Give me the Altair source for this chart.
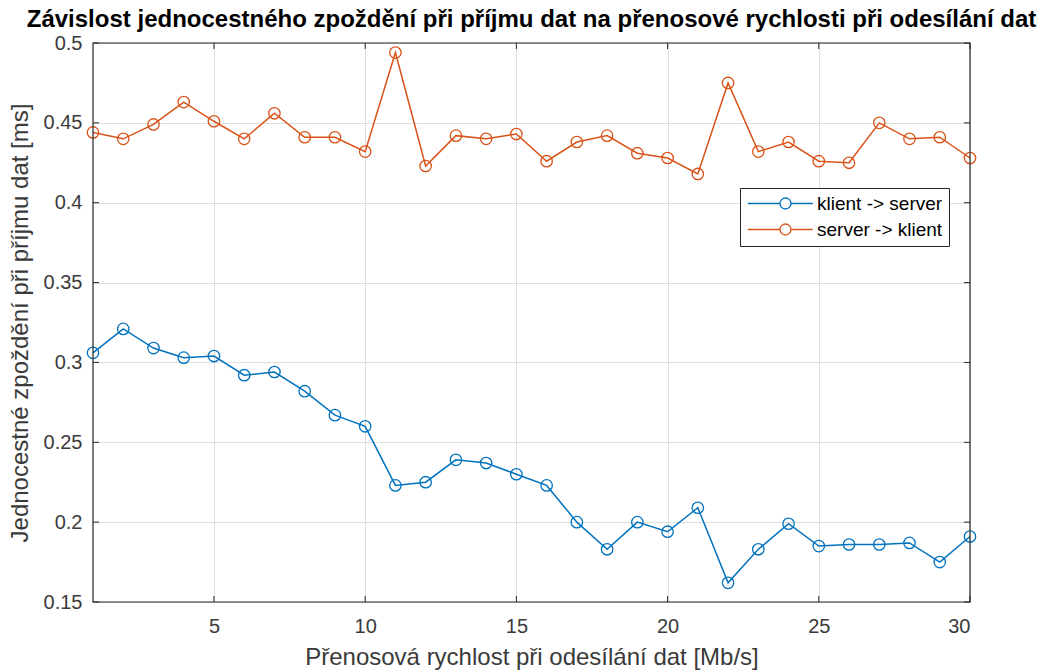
import altair as alt
import pandas as pd

# Transfer rate when sending data [Mb/s]
rate = list(range(1, 31))

# One-way delay on receive [ms]
klient_server = [0.306, 0.321, 0.309, 0.303, 0.304, 0.292, 0.294, 0.282, 0.267, 0.260,
                 0.223, 0.225, 0.239, 0.237, 0.230, 0.223, 0.200, 0.183, 0.200, 0.194,
                 0.209, 0.162, 0.183, 0.199, 0.185, 0.186, 0.186, 0.187, 0.175, 0.191]
server_klient = [0.444, 0.440, 0.449, 0.463, 0.451, 0.440, 0.456, 0.441, 0.441, 0.432,
                 0.494, 0.423, 0.442, 0.440, 0.443, 0.426, 0.438, 0.442, 0.431, 0.428,
                 0.418, 0.475, 0.432, 0.438, 0.426, 0.425, 0.450, 0.440, 0.441, 0.428]

series_names = ["klient -> server", "server -> klient"]
series_colors = ["#0072BD", "#D95319"]

x_ticks = [5, 10, 15, 20, 25, 30]
y_ticks = [0.15, 0.2, 0.25, 0.3, 0.35, 0.4, 0.45, 0.5]

W, H = 877, 559
FONT = "Liberation Sans"
INK = "#262626"
TXT = "#3a3a3a"

df = pd.concat([
    pd.DataFrame({"rate": rate, "delay": klient_server, "series": series_names[0]}),
    pd.DataFrame({"rate": rate, "delay": server_klient, "series": series_names[1]}),
])

x_scale = alt.Scale(domain=[1, 30], nice=False, zero=False)
y_scale = alt.Scale(domain=[0.15, 0.5], nice=False, zero=False)
color_scale = alt.Scale(domain=series_names, range=series_colors)

x_axis = alt.Axis(
    title="Přenosová rychlost při odesílání dat [Mb/s]",
    values=x_ticks, format="d", ticks=False, domain=False,
    labelPadding=14, labelFontSize=20, labelColor=TXT, labelFont=FONT,
    titleFontSize=24, titleFontWeight="normal", titleColor=TXT, titleFont=FONT,
    titleBaseline="alphabetic", titleY=62,
    grid=True, gridColor="#dedede", gridWidth=1,
)
y_axis = alt.Axis(
    title="Jednocestné zpoždění při příjmu dat [ms]",
    values=y_ticks, format=".2~f", ticks=False, domain=False,
    labelPadding=11, labelFontSize=20, labelColor=TXT, labelFont=FONT,
    titleFontSize=24, titleFontWeight="normal", titleColor=TXT, titleFont=FONT,
    titleBaseline="alphabetic", titleX=-66,
    grid=True, gridColor="#dedede", gridWidth=1,
)

# Legend symbol: a short line with an open circle on it
legend_symbol = "M-6.85,0L-1,0M1,0L4.96,0M-1,0A1,1,0,1,1,1,0A1,1,0,1,1,-1,0"

legend = alt.Legend(
    title=None, orient="none", legendX=647, legendY=145,
    symbolType=legend_symbol, symbolSize=121, symbolStrokeWidth=1.3,
    symbolFillColor="transparent", symbolOffset=30, labelOffset=22,
    labelFontSize=19, labelFont=FONT, labelColor="#000000",
    padding=6, rowPadding=6,
    strokeColor=INK, fillColor="#ffffff", cornerRadius=0,
)

base = alt.Chart(df)

lines = base.mark_line(strokeWidth=1.5).encode(
    x=alt.X("rate:Q", scale=x_scale, axis=x_axis),
    y=alt.Y("delay:Q", scale=y_scale, axis=y_axis),
    color=alt.Color("series:N", scale=color_scale, legend=legend),
)

points = base.mark_point(shape="circle", filled=False, size=130, strokeWidth=1.3, opacity=1).encode(
    x=alt.X("rate:Q", scale=x_scale),
    y=alt.Y("delay:Q", scale=y_scale),
    color=alt.Color("series:N", scale=color_scale, legend=None),
)

# Inward tick marks on all four sides of the box
xt = alt.Chart(pd.DataFrame({"t": x_ticks}))
yt = alt.Chart(pd.DataFrame({"t": y_ticks}))
tick_style = dict(color=INK, strokeWidth=1)
ticks_bottom = xt.mark_rule(**tick_style).encode(
    x=alt.X("t:Q", scale=x_scale), y=alt.value(H - 6), y2=alt.value(H))
ticks_top = xt.mark_rule(**tick_style).encode(
    x=alt.X("t:Q", scale=x_scale), y=alt.value(0), y2=alt.value(6))
ticks_left = yt.mark_rule(**tick_style).encode(
    y=alt.Y("t:Q", scale=y_scale), x=alt.value(0), x2=alt.value(6))
ticks_right = yt.mark_rule(**tick_style).encode(
    y=alt.Y("t:Q", scale=y_scale), x=alt.value(W - 6), x2=alt.value(W))

frame = alt.Chart(pd.DataFrame({"f": [0]})).mark_rect(
    fill=None, stroke=INK, strokeWidth=1.2
).encode(x=alt.value(0), x2=alt.value(W), y=alt.value(0), y2=alt.value(H))

chart = alt.layer(
    lines, points, ticks_bottom, ticks_top, ticks_left, ticks_right, frame
).properties(
    width=W, height=H,
    title=alt.TitleParams(
        "Závislost jednocestného zpoždění při příjmu dat na přenosové rychlosti při odesílání dat",
        fontSize=24, fontWeight="bold", font=FONT, color="#000000",
        anchor="middle", baseline="alphabetic", offset=11, frame="group", dy=29,
    ),
    autosize=alt.AutoSizeParams(type="none"),
    padding={"left": 93, "top": 43, "right": 74, "bottom": 70},
    background="#ffffff",
).configure_view(stroke=None)

chart.save("out.html", embed_options={"renderer": "svg", "actions": False})
